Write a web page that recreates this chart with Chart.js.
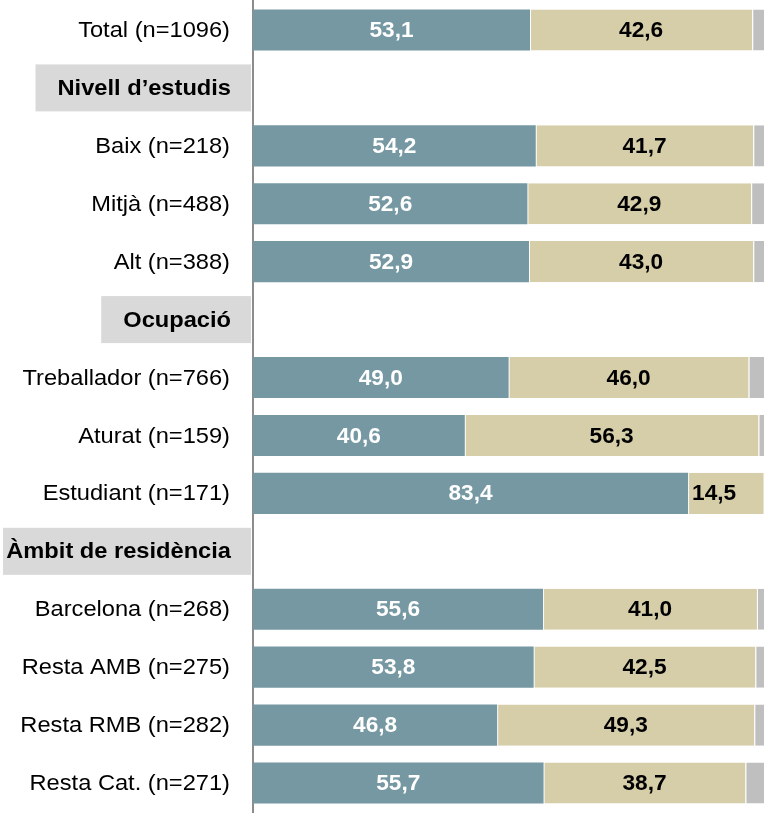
<!DOCTYPE html>
<html>
<head>
<meta charset="utf-8">
<script src="https://cdn.jsdelivr.net/npm/chart.js@4.4.1/dist/chart.umd.min.js"></script>
<style>
  html, body { margin: 0; padding: 0; background: #fff; }
  #wrap { width: 764px; height: 814px; }
</style>
</head>
<body>
<div id="wrap"><canvas id="chart" width="764" height="814"></canvas></div>
<script>
/* ── DATA ── */
const categories = [
  'Total (n=1096)', 'Nivell d’estudis', 'Baix (n=218)', 'Mitjà (n=488)', 'Alt (n=388)',
  'Ocupació', 'Treballador (n=766)', 'Aturat (n=159)', 'Estudiant (n=171)',
  'Àmbit de residència', 'Barcelona (n=268)', 'Resta AMB (n=275)', 'Resta RMB (n=282)', 'Resta Cat. (n=271)'
];
const headerRows = ['Nivell d’estudis', 'Ocupació', 'Àmbit de residència'];
const serieA = [53.1, null, 54.2, 52.6, 52.9, null, 49.0, 40.6, 83.4, null, 55.6, 53.8, 46.8, 55.7];
const serieB = [42.6, null, 41.7, 42.9, 43.0, null, 46.0, 56.3, 14.5, null, 41.0, 42.5, 49.3, 38.7];
const serieC = [4.3, null, 4.1, 4.5, 4.1, null, 5.0, 3.1, 2.1, null, 3.4, 3.7, 3.9, 5.6];

const FONT = "'Liberation Sans', Arial, sans-serif";
const STRETCH = 1.075; // the reference text is a bit wider than plain Arial

// text drawn with a small horizontal stretch, anchored on x
function wideText(ctx, txt, x, y, align, k) {
  ctx.save();
  ctx.translate(x, y);
  ctx.scale(k, 1);
  ctx.textAlign = align;
  ctx.fillText(txt, 0, 0);
  ctx.restore();
}

/* ── ROW LABELS (left side) ── */
const rowLabels = {
  id: 'rowLabels',
  afterDraw(chart) {
    const ctx = chart.ctx;
    const y = chart.scales.y;
    const right = chart.chartArea.left - 23;
    ctx.save();
    ctx.textBaseline = 'middle';
    categories.forEach((c, i) => {
      const py = y.getPixelForValue(i);
      if (headerRows.includes(c)) {
        ctx.font = `bold 22px ${FONT}`;
        const w = ctx.measureText(c).width * STRETCH;
        const boxL = Math.max(3, right - w - 21);
        ctx.fillStyle = '#d9d9d9';
        ctx.fillRect(boxL, py - 23.5, chart.chartArea.left - 2 - boxL, 47);
        ctx.fillStyle = '#000';
        wideText(ctx, c, right + 1, py + 1, 'right', STRETCH);
      } else {
        ctx.font = `22px ${FONT}`;
        ctx.fillStyle = '#000';
        wideText(ctx, c, right, py + 1, 'right', STRETCH);
      }
    });
    ctx.restore();
  }
};

/* ── VALUE LABELS ── */
const valueLabels = {
  id: 'valueLabels',
  afterDatasetsDraw(chart) {
    const ctx = chart.ctx;
    ctx.save();
    ctx.font = `bold 22px ${FONT}`;
    ctx.textBaseline = 'middle';
    [0, 1].forEach(di => {
      const meta = chart.getDatasetMeta(di);
      meta.data.forEach((bar, i) => {
        const v = chart.data.datasets[di].data[i];
        if (v === null || v === undefined) return;
        const txt = v.toFixed(1).replace('.', ',');
        const x0 = Math.min(bar.x, bar.base);
        const x1 = Math.min(Math.max(bar.x, bar.base), chart.chartArea.right);
        ctx.fillStyle = di === 0 ? '#fff' : '#000';
        if (x1 - x0 < 90) {
          wideText(ctx, txt, x0 + 4, bar.y + 1, 'left', 1.03);
        } else {
          wideText(ctx, txt, (x0 + x1) / 2, bar.y + 1, 'center', 1.03);
        }
      });
    });
    ctx.restore();
  }
};

new Chart(document.getElementById('chart'), {
  type: 'bar',
  data: {
    labels: categories,
    datasets: [
      { data: serieA, backgroundColor: '#7598a2', borderWidth: 0 },
      { data: serieB, backgroundColor: '#d6cda9', borderColor: 'rgba(255,255,255,0.7)', borderWidth: { left: 1 }, borderSkipped: false },
      { data: serieC, backgroundColor: '#bfbfbf', borderColor: 'rgba(255,255,255,0.7)', borderWidth: { left: 1 }, borderSkipped: false }
    ]
  },
  options: {
    indexAxis: 'y',
    responsive: false,
    animation: false,
    layout: { padding: { left: 253, right: 0, top: 1, bottom: 2 } },
    datasets: { bar: { categoryPercentage: 1, barPercentage: 0.71 } },
    plugins: { legend: { display: false }, tooltip: { enabled: false } },
    scales: {
      x: { stacked: true, min: 0, max: 97.95, display: false },
      y: {
        stacked: true,
        grid: { display: false, drawTicks: false },
        ticks: { display: false },
        border: { display: true, color: '#8c8c8c', width: 2 }
      }
    }
  },
  plugins: [rowLabels, valueLabels]
});
</script>
</body>
</html>
